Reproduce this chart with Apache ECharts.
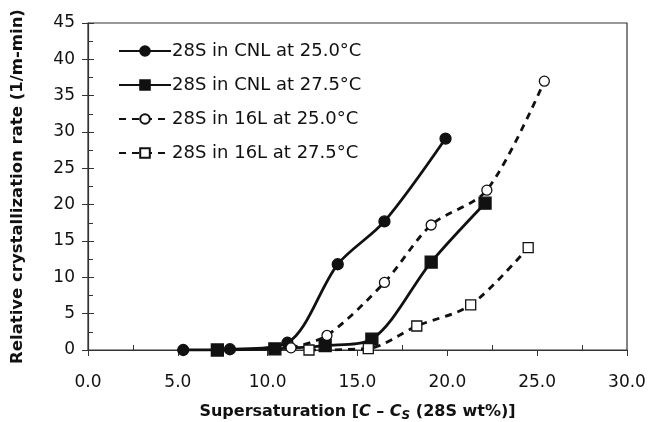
<!DOCTYPE html>
<html><head><meta charset="utf-8">
<script src="https://cdn.jsdelivr.net/npm/echarts@6/dist/echarts.min.js"></script>
<style>html,body{margin:0;padding:0;background:#fff}#c{width:651px;height:422px}</style>
</head><body><div id="c"></div>
<script>
const seriesNames = ['28S in CNL at 25.0°C','28S in CNL at 27.5°C','28S in 16L at 25.0°C','28S in 16L at 27.5°C'];
const cnl250 = [[5.3,0],[7.9,0.1],[11.1,1.0],[13.9,11.8],[16.5,17.7],[19.9,29.1]];
const cnl275 = [[7.2,0],[10.4,0.15],[13.2,0.6],[15.8,1.5],[19.1,12.1],[22.1,20.2]];
const l16250 = [[11.3,0.3],[13.3,2.0],[16.5,9.3],[19.1,17.2],[22.2,22.0],[25.4,37.0]];
const l16275 = [[12.3,0],[15.6,0.2],[18.3,3.3],[21.3,6.2],[24.5,14.1]];
const xMin = 0, xMax = 30, xMajor = 5;
const yMin = 0, yMax = 45, yMajor = 5;

const chart = echarts.init(document.getElementById('c'));
const font = 'DejaVu Sans, Liberation Sans, sans-serif';
const ink = '#111';
const axisCol = '#333';
function mk(name, data, symbol, filled, dashed, size){
  return {
    name, type:'line', data, smooth:0.3, symbol, symbolSize:size,
    lineStyle:{color:ink, width:2.8, type: dashed ? [7,6] : 'solid'},
    itemStyle:{color: filled ? ink : '#fff', borderColor:ink, borderWidth:1.3},
    z: filled ? 3 : 4
  };
}
chart.setOption({
  backgroundColor:'#fff',
  animation:false,
  grid:{left:88, right:24, top:23, bottom:72, show:true, borderColor:axisCol, borderWidth:1.2,
        containLabel:false, outerBoundsMode:'none'},
  legend:{
    left:113, top:37, orient:'vertical', itemWidth:52, itemHeight:12, itemGap:16,
    textStyle:{fontFamily:font, fontSize:18, color:ink, padding:[0,0,0,-4]},
    data:seriesNames
  },
  xAxis:[{
    type:'value', min:xMin, max:xMax, interval:xMajor, position:'bottom',
    axisLine:{lineStyle:{color:axisCol, width:1.2}},
    axisTick:{show:true, inside:false, length:6, lineStyle:{color:axisCol}},
    splitLine:{show:false},
    axisLabel:{fontFamily:font, fontSize:17, color:ink, margin:24,
      formatter:v => v.toFixed(1)},
    name:'{b|Supersaturation [}{bi|C}{b| – }{bi|C}{sub|S}{b| (28S wt%)]}',
    nameLocation:'middle', nameGap:52,
    nameTextStyle:{rich:{
      b:{fontFamily:font, fontSize:16, fontWeight:'bold', color:ink},
      bi:{fontFamily:font, fontSize:16, fontWeight:'bold', fontStyle:'italic', color:ink},
      sub:{fontFamily:font, fontSize:12, fontWeight:'bold', fontStyle:'italic', color:ink, verticalAlign:'bottom', padding:[8,0,0,0]}
    }}
  },{
    type:'value', min:xMin, max:xMax, interval:xMajor, position:'bottom', offset:0,
    axisLine:{show:false},
    axisTick:{show:false, inside:true},
    minorTick:{show:true, splitNumber:2, length:5, lineStyle:{color:axisCol, width:1}},
    axisLabel:{show:false}, splitLine:{show:false}, minorSplitLine:{show:false}
  }],
  yAxis:[{
    type:'value', min:yMin, max:yMax, interval:yMajor, position:'left',
    axisLine:{show:true, lineStyle:{color:axisCol, width:1.2}},
    axisTick:{show:true, inside:false, length:6, lineStyle:{color:axisCol}},
    splitLine:{show:false},
    axisLabel:{fontFamily:font, fontSize:17, color:ink, margin:13,
      formatter:v => String(v)},
    name:'Relative crystallization rate (1/m-min)',
    nameLocation:'middle', nameGap:62,
    nameTextStyle:{fontFamily:font, fontSize:16.5, fontWeight:'bold', color:ink}
  },{
    type:'value', min:yMin, max:yMax, interval:yMajor, position:'left', offset:0,
    axisLine:{show:false},
    axisTick:{show:true, inside:true, length:6, lineStyle:{color:axisCol}},
    minorTick:{show:true, splitNumber:2, length:5, lineStyle:{color:axisCol, width:1}},
    axisLabel:{show:false}, splitLine:{show:false}, minorSplitLine:{show:false}
  }],
  series:[
    mk(seriesNames[0], cnl250, 'circle', true, false, 11),
    mk(seriesNames[1], cnl275, 'rect', true, false, 12),
    mk(seriesNames[2], l16250, 'circle', false, true, 10),
    mk(seriesNames[3], l16275, 'rect', false, true, 10)
  ]
});
</script></body></html>
